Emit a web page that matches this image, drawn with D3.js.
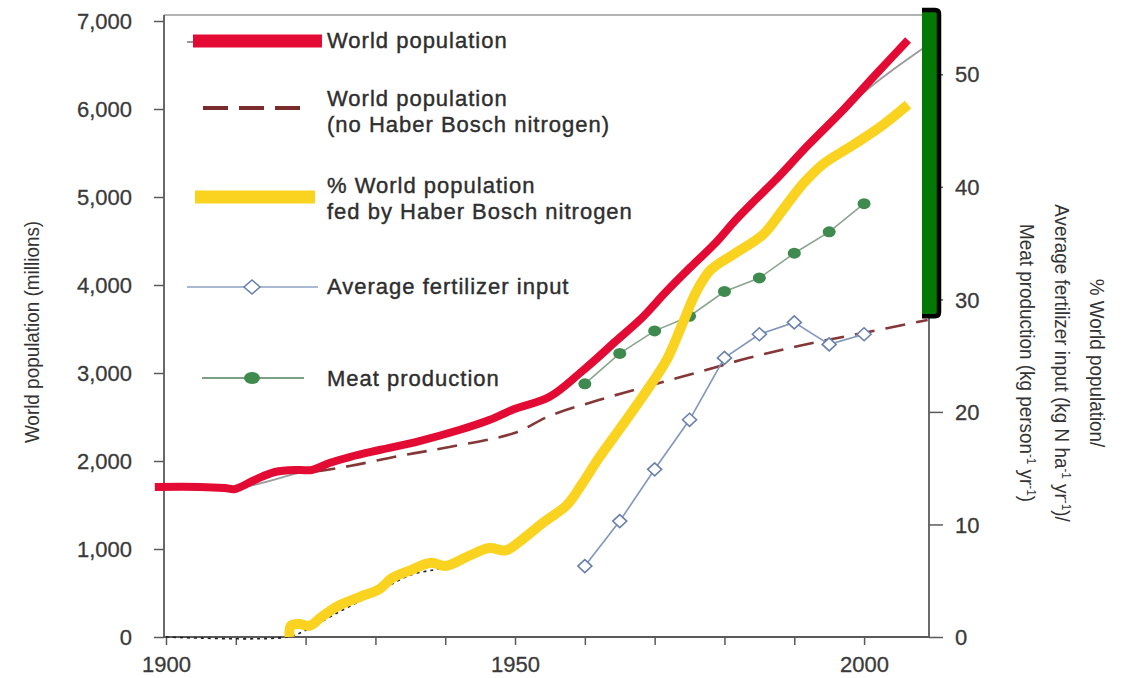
<!DOCTYPE html>
<html>
<head>
<meta charset="utf-8">
<script src="https://cdn.jsdelivr.net/npm/d3@7"></script>
<style>
  body { margin: 0; background: #fff; }
  text { font-family: "Liberation Sans", Arial, Helvetica, sans-serif; }
</style>
</head>
<body>
<div id="chart"></div>
<script>
// values: [year, value]
const worldPop = [[1898.4,1705],[1904.9,1705],[1908.4,1693],[1909.9,1682],[1912.7,1784],[1915.6,1875],
  [1919.1,1898],[1920.9,1898],[1923.4,1977],[1926.3,2045],[1930.6,2125],[1936.3,2227],[1942,2352],
  [1946.3,2466],[1949.9,2591],[1954.9,2727],[1959.6,3020],[1964.4,3360],[1968.1,3620],[1971.6,3920],
  [1975.3,4215],[1978.7,4477],[1981.6,4739],[1984.4,4966],[1987.3,5193],[1992,5590],[1997,5989],
  [2002,6420],[2006.3,6784]];
const worldPopOrig = [[1900,1700],[1910,1690],[1920,1890],[1930,2110],[1940,2310],[1950,2580],
  [1960,3010],[1970,3750],[1980,4590],[1990,5420],[2000,6190],[2009.2,6730]];
const popNoHB = [[1912.7,1784],[1916,1860],[1920.6,1875],[1926.3,1943],[1933.4,2057],[1940.6,2159],
  [1949.9,2318],[1954.9,2511],[1962,2693],[1969.1,2852],[1976.3,3011],[1983.4,3170],[1990.6,3307],
  [1999.1,3443],[2009.1,3602]];
const fedByHB = [[1917.7,0],[1917.9,1.0],[1919.1,1.15],[1920.6,1.0],[1922.3,1.8],[1924.6,2.75],
  [1927.7,3.55],[1930.6,4.26],[1932.3,5.2],[1934.9,5.9],[1938,6.6],[1940,6.3],[1943.4,7.2],
  [1946.3,7.9],[1948.7,7.7],[1950.9,8.6],[1954.1,10.2],[1957.4,11.7],[1959.6,13.6],[1962,15.9],
  [1965.6,19.0],[1969.1,22.1],[1971.7,24.6],[1973.9,27.7],[1975.9,30.6],[1978,32.6],[1981.3,34.0],
  [1985.6,35.8],[1988.4,38.0],[1991.3,40.3],[1994.1,42.0],[1998.4,43.7],[2002.7,45.5],[2006.3,47.3]];
const fedByHBOrig = [[1900,0],[1917.5,0],[1920,0.6],[1925,2.3],[1930,3.9],[1935,5.5],[1940,6.2],
  [1945,7.4],[1950,8.3],[1955,10.5],[1960,13.8],[1965,18.4],[1970,23.2],[1975,29.6],[1978,32.9],
  [1985,35.6],[1990,39.4],[1995,42.6],[2000,44.4]];
const fertYears = [1960,1965,1970,1975,1980,1985,1990,1995,2000];
const fertInput = [6.3,10.3,14.9,19.3,24.8,26.9,27.95,26.0,26.9];
const meatProd  = [22.5,25.2,27.2,28.5,30.7,31.9,34.1,36.0,38.5];
const leftTicks = [0,1000,2000,3000,4000,5000,6000,7000];
const rightTicks = [0,10,20,30,40,50];
const xTicks = [1900,1910,1920,1930,1940,1950,1960,1970,1980,1990,2000];
const xLabels = [1900,1950,2000];
const highlight = [28.5,55.7];   // green bar on the right axis
const legendItems = [
  {key:"pop",   lines:["World population"]},
  {key:"nohb",  lines:["World population","(no Haber Bosch nitrogen)"]},
  {key:"hb",    lines:["% World population","fed by Haber Bosch nitrogen"]},
  {key:"fert",  lines:["Average fertilizer input"]},
  {key:"meat",  lines:["Meat production"]}
];

const W = 1129, H = 678;
const RED = "#e30a33", YEL = "#fad321", DASH = "#853636";

const x = d3.scaleLinear().domain([1900, 2009.3]).range([166, 929]);
const yL = d3.scaleLinear().domain([0, 7000]).range([637, 21]);
const yR = d3.scaleLinear().domain([0, 55]).range([637, 18]);

const svg = d3.select("#chart").append("svg")
  .attr("width", W).attr("height", H);

const lineL = d3.line().x(d => x(d[0])).y(d => yL(d[1])).curve(d3.curveCatmullRom.alpha(0.5));
const lineR = d3.line().x(d => x(d[0])).y(d => yR(d[1])).curve(d3.curveCatmullRom.alpha(0.5));
const lineRlin = d3.line().x(d => x(d[0])).y(d => yR(d[1]));

// frame
svg.append("line").attr("x1", 164).attr("x2", 929).attr("y1", 15).attr("y2", 15)
  .attr("stroke", "#9a9a9a").attr("stroke-width", 1.5);

// axes
const axL = svg.append("g").attr("transform", "translate(164,0)")
  .call(d3.axisLeft(yL).tickValues(leftTicks).tickFormat(d3.format(",")).tickSize(10).tickPadding(22).tickSizeOuter(0));
const axR = svg.append("g").attr("transform", "translate(929,0)")
  .call(d3.axisRight(yR).tickValues(rightTicks).tickSize(14).tickPadding(12).tickSizeOuter(0));
const axB = svg.append("g").attr("transform", "translate(0,637)")
  .call(d3.axisBottom(x).tickValues(xTicks).tickFormat(d => xLabels.includes(d) ? d : "")
    .tickSize(8).tickPadding(11).tickSizeOuter(0));
[axL, axR, axB].forEach(a => {
  a.select(".domain").attr("stroke", "#5a5a5a").attr("stroke-width", 1.8);
  a.selectAll(".tick line").attr("stroke", "#5a5a5a").attr("stroke-width", 1.5);
  a.selectAll(".tick text").attr("font-size", 22).attr("fill", "#3a3a3a")
    .attr("stroke", "#3a3a3a").attr("stroke-width", 0.3);
});
axL.select(".domain").attr("d", "M0,637V15");
axR.select(".domain").attr("d", "M0,637V15");
axB.select(".domain").attr("d", "M164,0H929");
axR.selectAll(".tick text").attr("dy", "0.35em");

// axis titles
svg.append("text")
  .attr("transform", "translate(39,332) rotate(-90) scale(0.9,1)")
  .attr("text-anchor", "middle").attr("font-size", 21).attr("fill", "#333")
  .text("World population (millions)");

const rt = svg.append("g").attr("transform", "translate(1090,363) rotate(90) scale(0.9,1)");
const rtLines = [
  [["% World population/"]],
  [["Average fertilizer input (kg N ha"],["-1","sup"],[" yr"],["-1","sup"],[")/"]],
  [["Meat production (kg person"],["-1","sup"],[" yr"],["-1","sup"],[")"]]
];
rtLines.forEach((parts, i) => {
  const t = rt.append("text").attr("x", 0).attr("y", i * 35)
    .attr("text-anchor", "middle").attr("font-size", 21).attr("fill", "#333");
  parts.forEach(p => {
    const s = t.append("tspan").text(p[0]);
    if (p[1] === "sup") s.attr("font-size", 13).attr("baseline-shift", "7");
  });
});

// series: originals underneath
svg.append("path").datum(worldPopOrig).attr("d", lineL)
  .attr("fill", "none").attr("stroke", "#9c9c9c").attr("stroke-width", 2);
svg.append("path").datum(fedByHBOrig).attr("d", lineR)
  .attr("fill", "none").attr("stroke", "#222").attr("stroke-width", 1.6).attr("stroke-dasharray", "3,4");
svg.append("path").datum(popNoHB).attr("d", lineL)
  .attr("fill", "none").attr("stroke", DASH).attr("stroke-width", 2.6).attr("stroke-dasharray", "20,11");

const fert = fertYears.map((yr, i) => [yr, fertInput[i]]);
const meat = fertYears.map((yr, i) => [yr, meatProd[i]]);

svg.append("path").datum(meat).attr("d", lineRlin)
  .attr("fill", "none").attr("stroke", "#8aa58f").attr("stroke-width", 1.6);
svg.append("g").selectAll("ellipse").data(meat).join("ellipse")
  .attr("cx", d => x(d[0])).attr("cy", d => yR(d[1])).attr("rx", 6.5).attr("ry", 5.5)
  .attr("fill", "#3f8a4e");

svg.append("path").datum(fert).attr("d", lineRlin)
  .attr("fill", "none").attr("stroke", "#8096bd").attr("stroke-width", 1.6);
const diamond = (cx, cy, w, h) => `M${cx},${cy - h}L${cx + w},${cy}L${cx},${cy + h}L${cx - w},${cy}Z`;
svg.append("g").selectAll("path").data(fert).join("path")
  .attr("d", d => diamond(x(d[0]), yR(d[1]), 7, 6.5))
  .attr("fill", "#fff").attr("stroke", "#6981ad").attr("stroke-width", 1.6);

// highlighted curves
svg.append("path").datum(fedByHB).attr("d", lineR)
  .attr("fill", "none").attr("stroke", YEL).attr("stroke-width", 10)
  .attr("stroke-linejoin", "round");
svg.append("path").datum(worldPop).attr("d", lineL)
  .attr("fill", "none").attr("stroke", RED).attr("stroke-width", 8)
  .attr("stroke-linejoin", "round");

// green bar on right axis
const gy0 = yR(highlight[1]), gy1 = yR(highlight[0]);
svg.append("rect").attr("x", 922).attr("y", gy0).attr("width", 15).attr("height", gy1 - gy0)
  .attr("fill", "#037903");
svg.append("path")
  .attr("d", `M922,${gy0}H935Q939,${gy0} 939,${gy0 + 4}V${gy1 - 4}Q939,${gy1} 935,${gy1}H922`)
  .attr("fill", "none").attr("stroke", "#000").attr("stroke-width", 4.5);

// legend
const lg = svg.append("g");
const rowY = {pop: 41, nohb: 108, hb: 197, fert: 287, meat: 378};
const textTop = {pop: 48, nohb: 106, hb: 193, fert: 294, meat: 386};

lg.append("line").attr("x1", 187).attr("x2", 318).attr("y1", 42).attr("y2", 42)
  .attr("stroke", "#777").attr("stroke-width", 1.5);
lg.append("line").attr("x1", 193).attr("x2", 322).attr("y1", rowY.pop).attr("y2", rowY.pop)
  .attr("stroke", RED).attr("stroke-width", 13);
lg.append("line").attr("x1", 203).attr("x2", 300).attr("y1", rowY.nohb).attr("y2", rowY.nohb)
  .attr("stroke", "#7a2b2b").attr("stroke-width", 4).attr("stroke-dasharray", "25,11");
lg.append("line").attr("x1", 195).attr("x2", 315).attr("y1", rowY.hb).attr("y2", rowY.hb)
  .attr("stroke", YEL).attr("stroke-width", 13);
lg.append("line").attr("x1", 187).attr("x2", 318).attr("y1", rowY.fert).attr("y2", rowY.fert)
  .attr("stroke", "#a9b9d4").attr("stroke-width", 2);
lg.append("path").attr("d", diamond(252, rowY.fert, 8, 7))
  .attr("fill", "#fff").attr("stroke", "#6981ad").attr("stroke-width", 1.6);
lg.append("line").attr("x1", 202).attr("x2", 304).attr("y1", rowY.meat).attr("y2", rowY.meat)
  .attr("stroke", "#7f9f84").attr("stroke-width", 2);
lg.append("ellipse").attr("cx", 252).attr("cy", rowY.meat).attr("rx", 8).attr("ry", 6)
  .attr("fill", "#3f8a4e");

legendItems.forEach(it => {
  const t = lg.append("text").attr("x", 327).attr("y", textTop[it.key])
    .attr("font-size", 22).attr("fill", "#2e2e2e").attr("letter-spacing", 1)
    .attr("stroke", "#2e2e2e").attr("stroke-width", 0.4);
  it.lines.forEach((l, i) => t.append("tspan").attr("x", 327).attr("dy", i ? 26 : 0).text(l));
});
</script>
</body>
</html>
